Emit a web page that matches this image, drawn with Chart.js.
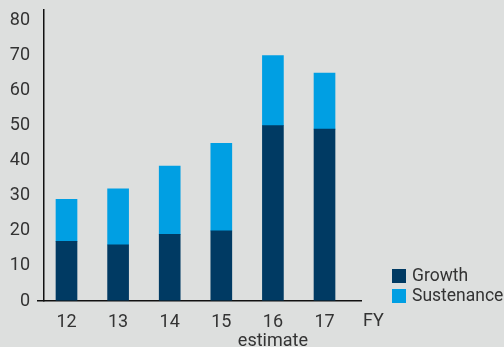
<!DOCTYPE html>
<html>
<head>
<meta charset="utf-8">
<script src="https://cdn.jsdelivr.net/npm/chart.js@4"></script>
<style>
  html, body { margin: 0; padding: 0; background: #dddfde; }
  #wrap { width: 504px; height: 347px; position: relative; }
</style>
</head>
<body>
<div id="wrap"><canvas id="c" width="504" height="347"></canvas></div>
<script>
const years = [12, 13, 14, 15, 16, 17];
const yearNotes = ['', '', '', '', 'estimate', ''];
const growth = [17, 16, 19, 20, 50, 49];
const sustenance = [12, 16, 19.5, 25, 20, 16];
const yTicks = [0, 10, 20, 30, 40, 50, 60, 70, 80];
const axisUnit = 'FY';
const seriesNames = ['Growth', 'Sustenance'];
const seriesColors = ['#003a63', '#009fe3'];

const FONT = 'Roboto, "DejaVu Sans", sans-serif';
const TEXT = '#333333';

const extras = {
  id: 'extras',
  afterDraw(chart) {
    const ctx = chart.ctx;
    const ca = chart.chartArea;
    ctx.save();
    ctx.fillStyle = TEXT;
    ctx.font = '18px ' + FONT;
    ctx.textBaseline = 'middle';
    ctx.textAlign = 'left';
    ctx.fillText(axisUnit, ca.right + 2, ca.bottom + 20);
    ctx.font = '17.5px ' + FONT;
    const lx = ca.right + 31;
    seriesNames.forEach((name, i) => {
      const cy = ca.bottom - 25 + i * 20;
      ctx.fillStyle = seriesColors[i];
      ctx.fillRect(lx, cy - 7, 14, 14);
      ctx.fillStyle = TEXT;
      ctx.fillText(name, lx + 20, cy + 1);
    });
    ctx.restore();
  }
};

new Chart(document.getElementById('c'), {
  type: 'bar',
  data: {
    datasets: [
      {
        label: seriesNames[0],
        data: years.map((y, i) => ({ x: y, y: growth[i] })),
        backgroundColor: seriesColors[0],
        barThickness: 21
      },
      {
        label: seriesNames[1],
        data: years.map((y, i) => ({ x: y, y: sustenance[i] })),
        backgroundColor: seriesColors[1],
        barThickness: 21
      }
    ]
  },
  plugins: [extras],
  options: {
    responsive: false,
    animation: false,
    layout: { padding: { top: 10, right: 143, left: 0, bottom: 0 } },
    plugins: { legend: { display: false }, tooltip: { enabled: false } },
    scales: {
      x: {
        type: 'linear',
        stacked: true,
        offset: false,
        min: 11.564,
        max: 17.707,
        afterBuildTicks: (s) => { s.ticks = years.map(v => ({ value: v })); },
        afterFit: (s) => { s.height = 46; s.paddingLeft = 0; s.paddingRight = 0; },
        grid: { display: false, offset: false },
        border: { display: true, color: '#111111', width: 1.5 },
        ticks: {
          padding: 4,
          color: TEXT,
          font: { family: FONT, size: 18, lineHeight: 1.05 },
          maxRotation: 0,
          autoSkip: false,
          callback: (v) => {
            const i = years.indexOf(v);
            if (i < 0) return '';
            return yearNotes[i] ? [String(v), yearNotes[i]] : String(v);
          }
        }
      },
      y: {
        stacked: true,
        min: 0,
        max: 83,
        afterBuildTicks: (s) => { s.ticks = yTicks.map(v => ({ value: v })); },
        afterFit: (s) => { s.width = 44; s.paddingTop = 0; s.paddingBottom = 0; },
        grid: {
          display: true,
          drawOnChartArea: false,
          drawTicks: true,
          tickLength: 7,
          lineWidth: 1.5,
          color: (c) => (c.tick && c.tick.value === 0) ? '#111111' : 'rgba(0,0,0,0)'
        },
        border: { display: true, color: '#111111', width: 1.5 },
        ticks: {
          padding: 7,
          color: TEXT,
          font: { family: FONT, size: 18 }
        }
      }
    }
  }
});
</script>
</body>
</html>
